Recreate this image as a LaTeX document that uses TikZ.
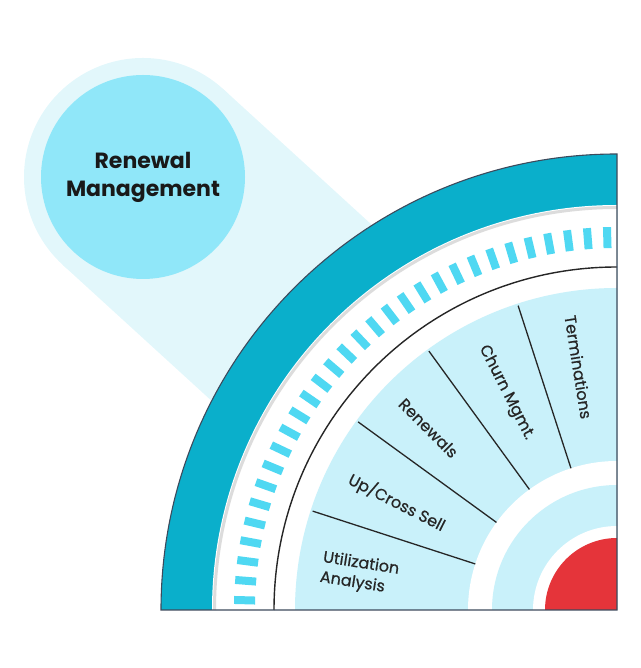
\documentclass[tikz,border=0pt]{standalone}
\usepackage{fontspec}
\setmainfont{Poppins}
\newfontfamily\labfont[FakeBold=0.6]{Poppins}
\definecolor{ringteal}{HTML}{0AAFCB}
\definecolor{halo}{HTML}{E2F7FB}
\definecolor{circfill}{HTML}{90E7F9}
\definecolor{sectfill}{HTML}{C9F1FA}
\definecolor{dashc}{HTML}{4FD8F2}
\definecolor{redc}{HTML}{E5343A}
\definecolor{borderc}{HTML}{3D4A5C}
\definecolor{grayline}{HTML}{DCDCDC}
\begin{document}
\begin{tikzpicture}[x=1pt,y=1pt,
  lab/.style={font=\labfont\fontsize{16}{20}\selectfont, text=black!85, inner sep=0pt},
  spoke/.style={line width=1.3pt, black!85}]
\useasboundingbox (0,0) rectangle (640,668);
\coordinate (C) at (617,58);
\coordinate (H) at (143,491);
\path (H) -- (C) coordinate[pos=0.61] (Bend);
% beam and halo
\draw[halo, line width=238pt] (H) -- (Bend);
\fill[halo] (H) circle (119);
\fill[circfill] (H) circle (102);
\node[font=\bfseries\fontsize{22}{28}\selectfont, align=center, text=black!90] (title) at (H) {Renewal\\Management};
% quarter disk
\fill[ringteal] (C) -- ++(-456,0) arc (180:90:456) -- cycle;
\fill[white] (C) -- ++(-405,0) arc (180:90:405) -- cycle;
\draw[grayline, line width=3pt] ([shift={(180:402.5)}]C) arc (180:90:402.5);
\foreach \k in {0,...,29} {
  \pgfmathsetmacro\a{91.5+3*\k}
  \draw[dashc, line width=8pt] ([shift={(\a:362)}]C) -- ([shift={(\a:383)}]C);
}
\draw[line width=1.4pt, black!85] ([shift={(180:343)}]C) arc (180:90:343);
\fill[sectfill] (C) -- ++(-322,0) arc (180:90:322) -- cycle;
\fill[white] (C) -- ++(-149,0) arc (180:90:149) -- cycle;
\fill[sectfill] (C) -- ++(-125,0) arc (180:90:125) -- cycle;
\fill[white] (C) -- ++(-84,0) arc (180:90:84) -- cycle;
\fill[redc] (C) -- ++(-72,0) arc (180:90:72) -- cycle;
\foreach \a in {108,126,144,162}
  \draw[spoke] ([shift={(\a:149)}]C) -- ([shift={(\a:320)}]C);
\draw[borderc, line width=1.1pt] (C) -- ++(-456,0) arc (180:90:456) -- cycle;
% labels
\node[lab, rotate=-81] (l1) at ([shift={(99:246)}]C) {Terminations};
\node[lab, rotate=-63] (l2) at ([shift={(117:244)}]C) {Churn Mgmt.};
\node[lab, rotate=-45] (l3) at ([shift={(136:262)}]C) {Renewals};
\node[lab, rotate=-27] (l4) at ([shift={(154:245)}]C) {Up/Cross Sell};
\node[lab, rotate=-9, align=left] (l5) at ([shift={(172:260)}]C) {Utilization\\Analysis};
\end{tikzpicture}
\end{document}
